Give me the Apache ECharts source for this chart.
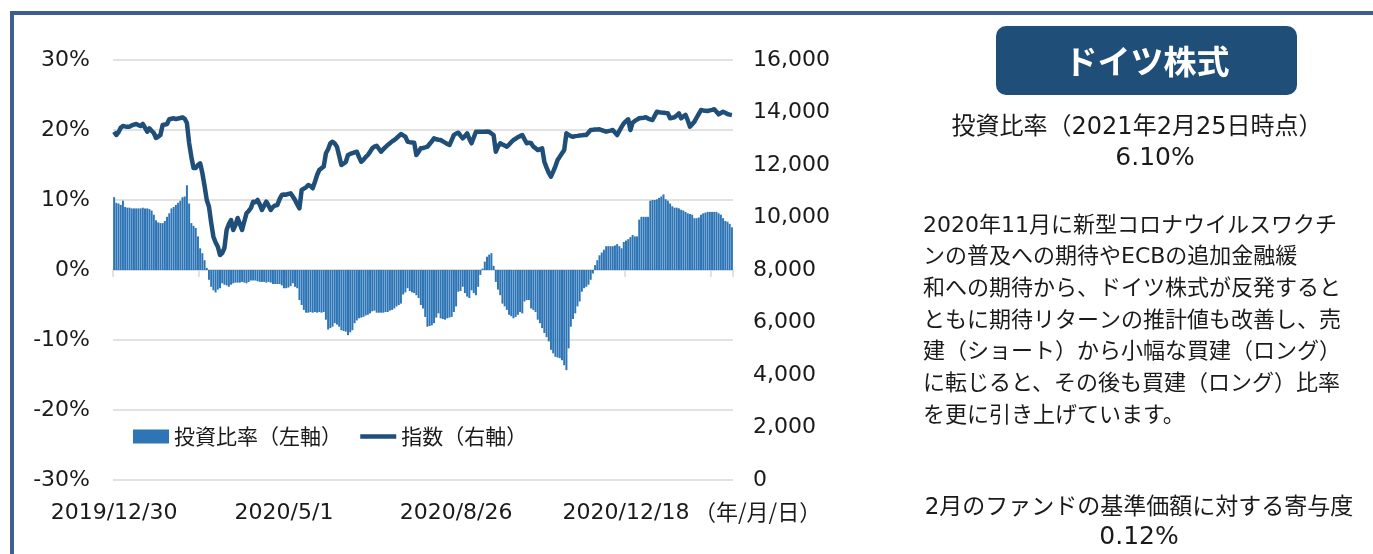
<!DOCTYPE html>
<html>
<head>
<meta charset="utf-8">
<script src="https://cdn.jsdelivr.net/npm/echarts@6.0.0/dist/echarts.min.js"></script>
<style>
    html, body { margin: 0; padding: 0; background: #fff; }
    #chart { width: 1373px; height: 554px; }
</style>
</head>
<body>
<div id="chart"></div>
<script>
// 投資比率（左軸, %）: 営業日ごと
const ratio = [
    10.4, 9.6, 9.5, 9.3, 9.9, 9.0, 8.9, 8.9, 8.8, 8.8,
    8.8, 8.8, 8.8, 8.9, 8.8, 8.8, 8.7, 8.5, 7.9, 7.1,
    6.8, 6.7, 6.7, 7.0, 7.6, 8.1, 8.8, 9.0, 9.3, 9.6,
    9.9, 10.4, 10.5, 12.1, 9.5, 6.7, 6.3, 6.0, 4.8, 3.1,
    2.4, 1.4, 0.3, -1.4, -2.4, -2.9, -3.2, -2.8, -2.6, -1.9,
    -2.1, -2.2, -2.4, -2.1, -1.9, -1.8, -1.8, -1.8, -1.7, -1.8,
    -1.9, -1.7, -1.5, -1.5, -1.5, -1.6, -1.7, -1.7, -1.7, -1.8,
    -1.7, -1.8, -2.0, -2.0, -2.0, -2.0, -2.2, -2.6, -2.6, -2.5,
    -2.3, -1.9, -2.4, -2.6, -4.3, -5.0, -5.7, -6.1, -6.1, -6.0,
    -6.1, -6.0, -6.1, -6.0, -6.1, -6.0, -7.1, -8.5, -8.3, -8.1,
    -7.6, -7.8, -8.1, -8.6, -8.7, -8.8, -9.3, -8.9, -8.6, -7.6,
    -7.2, -6.9, -6.8, -6.7, -6.5, -6.4, -6.2, -5.9, -5.8, -6.1,
    -6.1, -6.1, -6.1, -6.0, -6.0, -5.8, -5.7, -5.5, -5.2, -5.0,
    -4.8, -3.5, -3.2, -2.6, -3.0, -3.2, -3.3, -3.6, -4.0, -5.0,
    -5.5, -6.7, -8.1, -8.0, -7.9, -7.6, -6.8, -6.2, -6.9, -7.0,
    -7.1, -6.9, -6.8, -6.7, -6.0, -5.2, -3.1, -3.0, -2.4, -3.3,
    -3.8, -4.0, -2.9, -3.3, -3.6, -2.4, -0.7, 0.2, 1.2, 1.9,
    2.2, 2.4, 0.6, -1.7, -2.8, -3.6, -4.8, -5.2, -5.7, -6.4,
    -6.6, -6.9, -6.7, -6.4, -6.0, -6.2, -4.5, -4.3, -4.3, -5.5,
    -5.7, -6.0, -7.1, -7.6, -8.3, -9.0, -9.6, -10.2, -11.4, -11.9,
    -12.4, -12.5, -12.6, -12.9, -13.6, -14.3, -11.2, -8.1, -7.0, -6.2,
    -5.2, -4.5, -3.1, -2.6, -2.4, -2.1, -1.4, -0.5, 0.7, 1.4,
    2.1, 2.5, 2.9, 3.4, 3.4, 3.4, 3.4, 3.5, 3.7, 3.4,
    3.1, 4.0, 4.2, 4.4, 4.7, 5.0, 4.8, 4.8, 7.2, 7.6,
    7.6, 7.6, 7.6, 9.9, 10.0, 10.0, 10.1, 10.3, 10.5, 10.8,
    10.1, 9.9, 9.5, 9.1, 8.9, 8.9, 8.8, 8.6, 8.5, 8.3,
    8.1, 8.0, 7.9, 7.4, 7.4, 7.5, 7.9, 8.1, 8.2, 8.3,
    8.3, 8.3, 8.3, 8.3, 8.1, 7.9, 7.4, 7.0, 6.9, 6.6,
    6.1
]

// 指数（右軸）
const indexValues = [
    13269, 13143, 13250, 13420, 13486, 13470, 13460, 13459, 13510, 13540,
    13562, 13520, 13486, 13562, 13420, 13269, 13398, 13300, 13219, 13029,
    13080, 13143, 13524, 13540, 13562, 13741, 13760, 13779, 13752, 13770,
    13790, 13817, 13760, 13600, 12838, 12316, 11886, 11886, 12000, 12065,
    11695, 11200, 10667, 10411, 9800, 9268, 9050, 8888, 8571, 8648,
    8838, 9524, 9750, 9905, 9524, 9714, 9981, 9750, 9524, 9850,
    10160, 10250, 10362, 10602, 10580, 10667, 10500, 10286, 10450, 10602,
    10450, 10286, 10400, 10460, 10476, 10700, 10857, 10880, 10870, 10900,
    10921, 10800, 10667, 10500, 10350, 11048, 11100, 11150, 11238, 11200,
    11112, 11350, 11619, 11810, 11880, 11935, 12446, 12600, 12827, 12888,
    12820, 12697, 12350, 12000, 12050, 12114, 12381, 12420, 12450, 12480,
    12507, 12300, 12126, 12200, 12300, 12381, 12500, 12636, 12700, 12735,
    12620, 12507, 12600, 12680, 12762, 12830, 12900, 12952, 13020, 13100,
    13181, 13130, 13078, 12888, 12870, 12860, 12850, 12381, 12500, 12636,
    12650, 12670, 12697, 12800, 12900, 13017, 12980, 12960, 12952, 12900,
    12850, 12800, 12762, 12950, 13143, 13200, 13230, 13120, 13017, 13100,
    13207, 13000, 12827, 13050, 13269, 13270, 13265, 13270, 13268, 13272,
    13269, 13200, 13143, 12507, 12700, 12827, 12780, 12740, 12697, 12780,
    12870, 12952, 13000, 13060, 13100, 13143, 12980, 12827, 12850, 12827,
    12700, 12640, 12571, 12600, 12636, 12126, 11900, 11700, 11554, 11745,
    11950, 12190, 12320, 12450, 12571, 13207, 13150, 13100, 13078, 13100,
    13110, 13124, 13130, 13140, 13143, 13240, 13333, 13340, 13350, 13355,
    13360, 13330, 13300, 13269, 13290, 13310, 13333, 13240, 13143, 13300,
    13450, 13588, 13670, 13741, 13333, 13612, 13680, 13730, 13779, 13790,
    13800, 13817, 13770, 13740, 13714, 13870, 14030, 14010, 14000, 13993,
    13980, 13969, 13779, 13800, 13817, 13890, 13969, 13779, 13850, 13905,
    13700, 13459, 13550, 13650, 13800, 13950, 14095, 14080, 14070, 14057,
    14080, 14100, 14122, 14030, 13931, 13980, 14030, 13990, 13943, 13920,
    13905
]

// 日付ラベル（年/月/日）とその位置（何番目の営業日か）
const tickLabels = ['2019/12/30', '2020/5/1', '2020/8/26', '2020/12/18']
const tickLabelAt = [0, 77, 155, 232]
const tickMarkAt = [0, 39, 78, 116, 155, 194, 232, 271]

const categories = ratio.map((v, i) => String(i))

const commentLines = [
    '2020年11月に新型コロナウイルスワクチ',
    'ンの普及への期待やECBの追加金融緩',
    '和への期待から、ドイツ株式が反発すると',
    'ともに期待リターンの推計値も改善し、売',
    '建（ショート）から小幅な買建（ロング）',
    'に転じると、その後も買建（ロング）比率',
    'を更に引き上げています。'
]

const FONT_NUM = '"DejaVu Sans", "Noto Sans CJK JP", sans-serif'
const FONT_JP = '"Noto Sans CJK JP", sans-serif'
const TEXT_COLOR = '#1a1a1a'
const GRID_COLOR = '#d9d9d9'
const LINE_COLOR = '#1f4e79'

const chart = echarts.init(document.getElementById('chart'))

const option = {
    animation: false,
    backgroundColor: '#fff',
    grid: {
        left: 113,
        right: 640,
        top: 60,
        bottom: 74
    },
    legend: {
        left: 133,
        top: 426,
        padding: 0,
        itemWidth: 36,
        itemHeight: 14,
        itemGap: 16,
        textStyle: {
            fontFamily: FONT_JP,
            fontSize: 21,
            color: TEXT_COLOR
        },
        data: [
            { name: '投資比率（左軸）', icon: 'rect' },
            {
                name: '指数（右軸）',
                itemStyle: { opacity: 0 },
                lineStyle: { width: 4.5, color: LINE_COLOR }
            }
        ]
    },
    xAxis: [
        {
            type: 'category',
            data: categories,
            position: 'bottom',
            axisLine: {
                onZero: true,
                onZeroAxisIndex: 0,
                lineStyle: { color: GRID_COLOR, width: 1.5 }
            },
            axisTick: {
                show: true,
                length: 7,
                interval: (i) => tickMarkAt.includes(i),
                lineStyle: { color: GRID_COLOR, width: 1.5 }
            },
            axisLabel: { show: false },
            splitLine: { show: false }
        },
        {
            type: 'category',
            data: categories,
            position: 'bottom',
            axisLine: { show: false },
            axisTick: { show: false },
            axisLabel: {
                margin: 22,
                interval: (i) => tickLabelAt.includes(i),
                formatter: (v, i) => tickLabels[tickLabelAt.indexOf(i)] || '',
                fontFamily: FONT_NUM,
                fontSize: 22,
                color: TEXT_COLOR
            },
            splitLine: { show: false }
        }
    ],
    yAxis: [
        {
            type: 'value',
            min: -30,
            max: 30,
            interval: 10,
            axisLine: { show: false },
            axisTick: { show: false },
            axisLabel: {
                margin: 23,
                formatter: '{value}%',
                fontFamily: FONT_NUM,
                fontSize: 22,
                color: TEXT_COLOR
            },
            splitLine: {
                lineStyle: { color: GRID_COLOR, width: 1.5 }
            }
        },
        {
            type: 'value',
            min: 0,
            max: 16000,
            interval: 2000,
            axisLine: { show: false },
            axisTick: { show: false },
            axisLabel: {
                margin: 20,
                formatter: (v) => v.toLocaleString('en-US'),
                fontFamily: FONT_NUM,
                fontSize: 22,
                color: TEXT_COLOR
            },
            splitLine: { show: false }
        }
    ],
    series: [
        {
            name: '投資比率（左軸）',
            type: 'bar',
            xAxisIndex: 0,
            yAxisIndex: 0,
            data: ratio,
            barCategoryGap: '10%',
            itemStyle: { color: '#2e75b6' }
        },
        {
            name: '指数（右軸）',
            type: 'line',
            xAxisIndex: 0,
            yAxisIndex: 1,
            data: indexValues,
            symbol: 'none',
            lineStyle: { color: LINE_COLOR, width: 4.5, join: 'round' },
            itemStyle: { color: LINE_COLOR },
            z: 3
        }
    ],
    graphic: [
        // 外枠
        {
            type: 'rect',
            shape: { x: 12, y: 13, width: 1420, height: 600 },
            style: { fill: 'none', stroke: '#3b5f8f', lineWidth: 4 },
            silent: true
        },
        // 年/月/日
        {
            type: 'text',
            x: 694,
            y: 512,
            style: {
                text: '（年/月/日）',
                font: '22px ' + FONT_JP,
                fill: TEXT_COLOR,
                align: 'left',
                verticalAlign: 'middle'
            }
        },
        // タイトル
        {
            type: 'rect',
            shape: { x: 996, y: 26, width: 301, height: 69, r: 10 },
            style: { fill: LINE_COLOR }
        },
        {
            type: 'text',
            x: 1147,
            y: 61,
            style: {
                text: 'ドイツ株式',
                font: 'bold 33px ' + FONT_JP,
                fill: '#fff',
                align: 'center',
                verticalAlign: 'middle'
            }
        },
        {
            type: 'text',
            x: 1137,
            y: 128,
            style: {
                text: '投資比率（2021年2月25日時点）',
                font: '24px ' + FONT_NUM,
                fill: TEXT_COLOR,
                align: 'center',
                verticalAlign: 'middle'
            }
        },
        {
            type: 'text',
            x: 1155,
            y: 158,
            style: {
                text: '6.10%',
                font: '25px ' + FONT_NUM,
                fill: TEXT_COLOR,
                align: 'center',
                verticalAlign: 'middle'
            }
        },
        {
            type: 'text',
            x: 923,
            y: 210,
            style: {
                text: commentLines.join('\n'),
                font: '22px ' + FONT_NUM,
                lineHeight: 31.7,
                fill: TEXT_COLOR,
                align: 'left',
                verticalAlign: 'top'
            }
        },
        {
            type: 'text',
            x: 1139,
            y: 508,
            style: {
                text: '2月のファンドの基準価額に対する寄与度',
                font: '23px ' + FONT_NUM,
                fill: TEXT_COLOR,
                align: 'center',
                verticalAlign: 'middle'
            }
        },
        {
            type: 'text',
            x: 1139,
            y: 537,
            style: {
                text: '0.12%',
                font: '25px ' + FONT_NUM,
                fill: TEXT_COLOR,
                align: 'center',
                verticalAlign: 'middle'
            }
        }
    ]
}

chart.setOption(option)
</script>
</body>
</html>
